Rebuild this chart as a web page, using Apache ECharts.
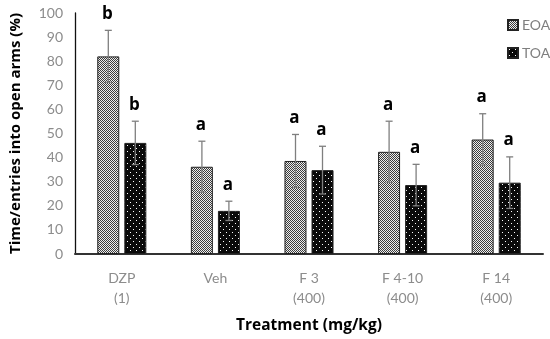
<!DOCTYPE html>
<html><head><meta charset="utf-8">
<script src="https://cdn.jsdelivr.net/npm/echarts@6/dist/echarts.min.js"></script>
<style>html,body{margin:0;padding:0;background:#fff}#c{width:550px;height:339px}</style>
</head><body><div id="c"></div>
<script>
const categories = ['DZP\n(1)', 'Veh', 'F 3\n(400)', 'F 4-10\n(400)', 'F 14\n(400)'];
const eoaValues = [82, 36.2, 38.6, 42.4, 47.5];
const eoaErrors = [10.8, 10.6, 11, 12.7, 10.7];
const eoaLetters = ['b', 'a', 'a', 'a', 'a'];
const toaValues = [46.1, 17.9, 34.8, 28.6, 29.6];
const toaErrors = [9, 4, 9.9, 8.6, 10.7];
const toaLetters = ['b', 'a', 'a', 'a', 'a'];
const yTicks = [0, 10, 20, 30, 40, 50, 60, 70, 80, 90, 100];

function makePattern(kind) {
  const cv = document.createElement('canvas');
  if (kind === 'eoa') {
    cv.width = 2; cv.height = 2;
    const g = cv.getContext('2d');
    g.fillStyle = '#eeeeee'; g.fillRect(0, 0, 2, 2);
    g.fillStyle = '#3c3c3c'; g.fillRect(0, 0, 1, 1); g.fillRect(1, 1, 1, 1);
  } else {
    cv.width = 6; cv.height = 6;
    const g = cv.getContext('2d');
    g.fillStyle = '#0a0a0a'; g.fillRect(0, 0, 6, 6);
    g.fillStyle = '#ffffff'; g.fillRect(1, 1, 1, 1); g.fillRect(4, 4, 1, 1);
  }
  return { image: cv, repeat: 'repeat' };
}

const BAR_W = 22, OFFSET = 13.5;
function errSeries(values, errors, letters, dx) {
  return {
    type: 'custom',
    z: 10,
    data: values.map((v, i) => [i, v, errors[i]]),
    renderItem: function (params, api) {
      const i = api.value(0), v = api.value(1), e = api.value(2);
      const c = api.coord([i, v]);
      const x = c[0] + dx;
      const top = api.coord([i, v + e])[1];
      const bot = api.coord([i, v - e])[1];
      const st = { stroke: '#7f7f7f', lineWidth: 1.3 };
      return {
        type: 'group', children: [
          { type: 'line', shape: { x1: x, y1: top, x2: x, y2: bot }, style: st },
          { type: 'line', shape: { x1: x - 3.5, y1: top, x2: x + 3.5, y2: top }, style: st },
          { type: 'line', shape: { x1: x - 3.5, y1: bot, x2: x + 3.5, y2: bot }, style: st },
          { type: 'text', style: { text: letters[i], x: x - 1, y: top - 8, textAlign: 'center', textVerticalAlign: 'bottom', font: 'bold 17px "Open Sans", sans-serif', fill: '#000' } }
        ]
      };
    },
    tooltip: { show: false },
    silent: true
  };
}

const chart = echarts.init(document.getElementById('c'), null, { renderer: 'canvas' });
chart.setOption({
  animation: false,
  backgroundColor: '#fff',
  grid: { left: 68, right: 7, top: 13, bottom: 81, containLabel: false },
  legend: {
    orient: 'vertical', left: 502, top: 12, itemWidth: 10, itemHeight: 10, itemGap: 12,
    icon: 'rect',
    data: ['EOA', 'TOA'],
    textStyle: { color: '#7f7f7f', fontSize: 14, lineHeight: 16, fontFamily: 'Lato, "Open Sans", sans-serif', padding: [0, 0, 0, -1] }
  },
  xAxis: {
    type: 'category', data: categories,
    axisLine: { lineStyle: { color: '#333', width: 2 } },
    axisTick: { show: false },
    axisLabel: { color: '#8c8c8c', fontSize: 14, lineHeight: 20, margin: 14, fontFamily: 'Lato, "Open Sans", sans-serif' },
    name: 'Treatment (mg/kg)', nameLocation: 'middle', nameGap: 64,
    nameTextStyle: { color: '#000', fontWeight: 'bold', fontSize: 15.5, fontFamily: '"Open Sans", sans-serif' }
  },
  yAxis: {
    type: 'value', min: 0, max: 100, interval: 10,
    axisLine: { show: true, lineStyle: { color: '#111', width: 1.3 } },
    axisTick: { show: false },
    splitLine: { show: false },
    axisLabel: { color: '#8c8c8c', fontSize: 14, margin: 12, fontFamily: 'Lato, "Open Sans", sans-serif',
      formatter: v => yTicks.includes(v) ? String(v) : '' },
    name: 'Time/entries into open arms (%)', nameLocation: 'middle', nameGap: 52,
    nameTextStyle: { color: '#000', fontWeight: 'bold', fontSize: 15, fontFamily: '"Open Sans", sans-serif' }
  },
  series: [
    { name: 'EOA', type: 'bar', data: eoaValues, barWidth: BAR_W, barGap: '23%',
      itemStyle: { color: makePattern('eoa'), borderColor: '#222', borderWidth: 1 } },
    { name: 'TOA', type: 'bar', data: toaValues, barWidth: BAR_W, barGap: '23%',
      itemStyle: { color: makePattern('toa'), borderColor: '#222', borderWidth: 1 } },
    errSeries(eoaValues, eoaErrors, eoaLetters, -OFFSET),
    errSeries(toaValues, toaErrors, toaLetters, OFFSET)
  ]
});
</script>
</body></html>
